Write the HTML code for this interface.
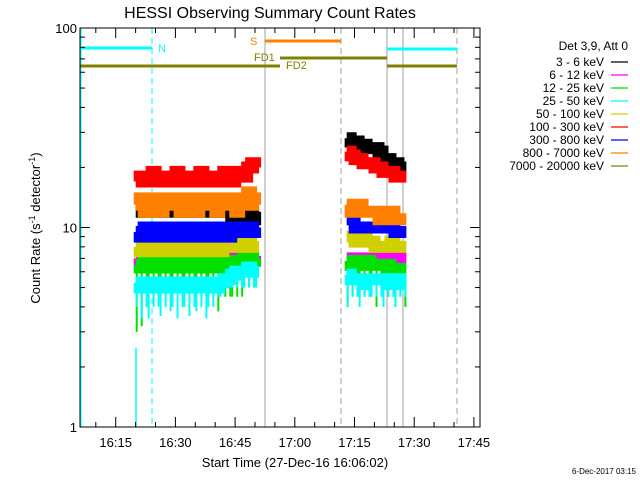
<!DOCTYPE html>
<html><head><meta charset="utf-8"><style>
body{margin:0;background:#fff;}
svg{display:block;font-family:"Liberation Sans",sans-serif;}
</style></head><body>
<svg id="chart" width="640" height="480" viewBox="0 0 640 480">
<text x="270" y="18" font-size="16" text-anchor="middle">HESSI Observing Summary Count Rates</text>
<g id="marks"></g>
<g id="axes"></g>
<text x="295" y="467" font-size="13" text-anchor="middle">Start Time (27-Dec-16 16:06:02)</text>
<text transform="translate(40,228) rotate(-90)" font-size="13" text-anchor="middle">Count Rate (s<tspan dy="-5" font-size="9">-1</tspan><tspan dy="5"> detector</tspan><tspan dy="-5" font-size="9">-1</tspan><tspan dy="5">)</tspan></text>
<text x="636" y="474" font-size="8" text-anchor="end">6-Dec-2017 03:15</text>
<g id="legend"></g>
</svg>
<script>
const NS="http://www.w3.org/2000/svg";
const seriesNames=["3 - 6 keV","6 - 12 keV","12 - 25 keV","25 - 50 keV","50 - 100 keV","100 - 300 keV","300 - 800 keV","800 - 7000 keV","7000 - 20000 keV"];
const seriesColors=["#000000","#ff00ff","#00e000","#00ffff","#d0d000","#ff0000","#0000ff","#ff8000","#808000"];
const yTicks=[1,10,100];
const yTickLabels=["1","10","100"];
const xTickMinutes=[8.97,23.97,38.97,53.97,68.97,83.97,98.97];
const xTickLabels=["16:15","16:30","16:45","17:00","17:15","17:30","17:45"];
const seg1Times=[14,15,16,17,18,19,20,21,22,23,24,25,26,27,28,29,30,31,32,33,34,35,36,37,38,39,40,41,42,43,44];
const seg2Times=[67,68,69,70,71,72,73,74,75,76,77,78,79,80,81];
const seg1Black=[12,12,13,12,13,13,12,13,12,13,12,13,12,13,13,12,12,13,12,13,13,12,12,13,11,11,12,11,11,11,12];
const seg1Magenta=[7,6.8,7,7,6.8,7,7,6.8,7,7,7,6.8,7,7,6.8,7,7,7,6.8,7,7,6.8,7,7,7,7,7,7.2,7,7,7.2];
const seg1Green=[6.5,6.3,6.8,6.3,6.8,6.5,6.3,6.8,6.3,6.8,6.5,6.3,6.8,6.3,6.8,6.5,6.3,6.8,6.5,6.3,6.8,6.3,6.8,6.5,6.3,6.8,6.8,7,6.8,6.8,7];
const seg1Cyan=[5.3,5,5.3,5,5.3,5.3,5,5.3,5,5.3,5,5.3,5.3,5,5.3,5,5.3,5,5.3,5.3,5,5.3,5.5,5.5,5.8,6,6,6,6.3,6,6];
const seg1Yellow=[8,7.6,8,8,7.6,8,8,7.6,8,8,8,7.6,8,8,7.6,8,8,8,7.6,8,8,7.6,8,8,8,8.4,8,8,8.4,8,8];
const seg1Red=[17,18,17,18,19,17,18,17,18,17,19,18,17,18,17,18,19,18,17,18,18,17,19,18,17,18,19,18,20,21,20];
const seg1Blue=[9.5,9,10,9.5,9,10,9.5,9,10,9.5,9,9.5,10,9,9.5,10,9,9.5,10,9.5,9,10,9.5,9,10,10,9.5,10,10,9.5,10];
const seg1Orange=[13,14,12,13,14,13,12,14,13,13,14,12,13,14,13,12,13,14,13,13,12,14,13,14,13,12,13,14,15,14,13];
const seg1CyanLow=[4,3.5,4,3.5,4,4,3.6,4,3.8,4,3.5,4,4,3.6,4,3.8,4,3.5,4,4,4.5,4.5,5,5,5,5,5,5,5,5,5];
const seg1GreenLow=[3,3.2,4,4.5,4.5,4.5,4.5,4.5,4.5,4.5,4.5,4.5,4.5,4.5,4.5,4.5,4.5,4.5,4.5,4.5,3.8,4.5,4.5,4.5,4.5,4.5,4.5,5,5,5,5];
const seg2Black=[28,27,27,26,26,25,25,25,24,22,22,21,21,20,20];
const seg2Magenta=[7,7,7,7,7,7,7,7,7,7,7,7,7,7,7];
const seg2Green=[6.8,6.5,6.8,6.5,6.5,6.8,6.5,6.5,6.5,6.5,6.5,6.2,6.2,6.2,6.2];
const seg2Cyan=[5.8,5.5,5.5,5.5,5.2,5.5,5.5,5.5,5.5,5.5,5.5,5.2,5.2,5.5,5.5];
const seg2Yellow=[9,9,8.5,8.5,9,8.5,8.5,8,8,8,8,8.5,8,8,8];
const seg2Red=[24,23,22,22,21,21,21,20,20,19,19,19,18,18,18];
const seg2Blue=[11,11,10,10,10,10,10,10,10,10,10,10,9.5,9.5,9.5];
const seg2Orange=[13,12,12,13,12,12,12,12,11,11,12,12,11,11,11];
const seg2CyanLow=[4,4.5,4.5,4,4.5,4.5,4.5,4.5,4.5,4,4.5,4.5,4,4.5,4.5];
const seg2GreenLow=[4,4.5,4.5,4.5,4.5,4.5,4.5,4,4.5,4.5,4.5,4.5,4,4.5,4];
const seg1Data=[seg1Black,seg1Magenta,seg1Green,seg1Cyan,seg1Yellow,seg1Red,seg1Blue,seg1Orange];
const seg2Data=[seg2Black,seg2Magenta,seg2Green,seg2Cyan,seg2Yellow,seg2Red,seg2Blue,seg2Orange];

const X0=80,X1=480,Y0=28,Y1=427,TMAX=100.5;
function xs(t){return X0+(X1-X0)*t/TMAX;}
function ys(v){return Y1-(Y1-Y0)*Math.log10(v)/2;}
const axes=document.getElementById('axes'),marks=document.getElementById('marks'),legend=document.getElementById('legend');
function mk(tag,attrs,parent){const e=document.createElementNS(NS,tag);for(const k in attrs)e.setAttribute(k,attrs[k]);parent.appendChild(e);return e;}

function vline(x,color,dash,name){const l=mk('line',{x1:x,x2:x,y1:Y0,y2:Y1,stroke:color,'stroke-width':1,'stroke-dasharray':dash||'none'},marks);

}
vline(81,'#00ffff','', 'left-cyan-line');
vline(152,'#00ffff','6,4','night-end-line');
vline(265,'#a0a0a0','', 'saa-start-line');
vline(341,'#a0a0a0','6,4','saa-end-line');
vline(387,'#a0a0a0','', 'night-start-line');
vline(403,'#a0a0a0','', 'data-end-line');
vline(457,'#a0a0a0','6,4','night-end-line-2');

function hbar(x1,x2,y,color,w,name){const l=mk('line',{x1:x1,x2:x2,y1:y,y2:y,stroke:color,'stroke-width':w},marks);

}
hbar(80,152,48,'#00ffff',3,'night-bar');
hbar(387,457,49,'#00ffff',3,'night-bar-2');
hbar(265,341,41,'#ff8000',3,'saa-bar');
hbar(280,387,58,'#808000',3,'fd1-bar');
hbar(80,280,66,'#808000',3,'fd2-bar');
hbar(387,457,66,'#808000',3,'fd2-bar-2');
function lbl(x,y,txt,color,name){const t=mk('text',{x:x,y:y,fill:color,'font-size':11},marks);t.textContent=txt;

}
lbl(158,52,'N','#00ffff','night-label');
lbl(250,45,'S','#ff8000','saa-label');
lbl(254,61,'FD1','#808000','fd1-label');
lbl(286,69,'FD2','#808000','fd2-label');

function drawSpikes(times,lows,highs,color,name){
 lows.forEach((v,j)=>{const x=xs(times[j])+1+(j%3);
  const l=mk('line',{x1:x,x2:x,y1:ys(v),y2:ys(highs[j]),stroke:color,'stroke-width':2},marks);
  
  });
}
drawSpikes(seg1Times,seg1GreenLow,seg1Green,'#00e000','green-dip');
drawSpikes(seg2Times,seg2GreenLow,seg2Green,'#00e000','green-dip');
drawSpikes(seg1Times,seg1CyanLow,seg1Cyan,'#00ffff','cyan-dip');
drawSpikes(seg2Times,seg2CyanLow,seg2Cyan,'#00ffff','cyan-dip');

function drawSeg(times,data,segName){
 data.forEach((vals,i)=>{
  let d='';
  vals.forEach((v,j)=>{const x=xs(times[j]),xn=xs(times[j]+1),y=ys(v);d+=(j?'L':'M')+x+','+y+'L'+xn+','+y;});
  const p=mk('path',{d:d,fill:'none',stroke:seriesColors[i],'stroke-width':12},marks);
  
  
 });
}
drawSeg(seg1Times,seg1Data,'segment1');
drawSeg(seg2Times,seg2Data,'segment2');
const cl=mk('line',{x1:136,x2:136,y1:ys(2.5),y2:Y1,stroke:'#00ffff','stroke-width':1.5},marks);



const box=mk('rect',{x:X0,y:Y0,width:X1-X0,height:Y1-Y0,fill:'none',stroke:'#000','stroke-width':1},axes);


yTicks.forEach((v,i)=>{const y=ys(v);
 const t=mk('text',{x:X0-3,y:y+5,'font-size':13,'text-anchor':'end'},axes);t.textContent=yTickLabels[i];
 
 
 mk('line',{x1:X0,x2:X0+10,y1:y,y2:y,stroke:'#000'},axes);mk('line',{x1:X1,x2:X1-10,y1:y,y2:y,stroke:'#000'},axes);
 if(i<yTicks.length-1){for(let m=2;m<10;m++){const ym=ys(v*m);mk('line',{x1:X0,x2:X0+5,y1:ym,y2:ym,stroke:'#000'},axes);mk('line',{x1:X1,x2:X1-5,y1:ym,y2:ym,stroke:'#000'},axes);}}
});
xTickMinutes.forEach((tm,i)=>{const x=xs(tm);
 if(x<=X1+1){mk('line',{x1:x,x2:x,y1:Y1,y2:Y1-10,stroke:'#000'},axes);mk('line',{x1:x,x2:x,y1:Y0,y2:Y0+10,stroke:'#000'},axes);}
 const t=mk('text',{x:x,y:447,'font-size':13,'text-anchor':'middle'},axes);t.textContent=xTickLabels[i];
 
 
 for(let k=1;k<3;k++){const xm=xs(tm-5*k);if(xm>X0){mk('line',{x1:xm,x2:xm,y1:Y1,y2:Y1-5,stroke:'#000'},axes);mk('line',{x1:xm,x2:xm,y1:Y0,y2:Y0+5,stroke:'#000'},axes);}}
});

const lh=mk('text',{x:628,y:50,'font-size':12,'text-anchor':'end'},legend);lh.textContent='Det 3,9, Att 0';


seriesNames.forEach((n,i)=>{const y=62+13*i;
 const t=mk('text',{x:604,y:y+4,'font-size':12,'text-anchor':'end'},legend);t.textContent=n;
 
 
 mk('line',{x1:611,x2:628,y1:y,y2:y,stroke:seriesColors[i],'stroke-width':1.2},legend);
});
</script>
</body></html>
